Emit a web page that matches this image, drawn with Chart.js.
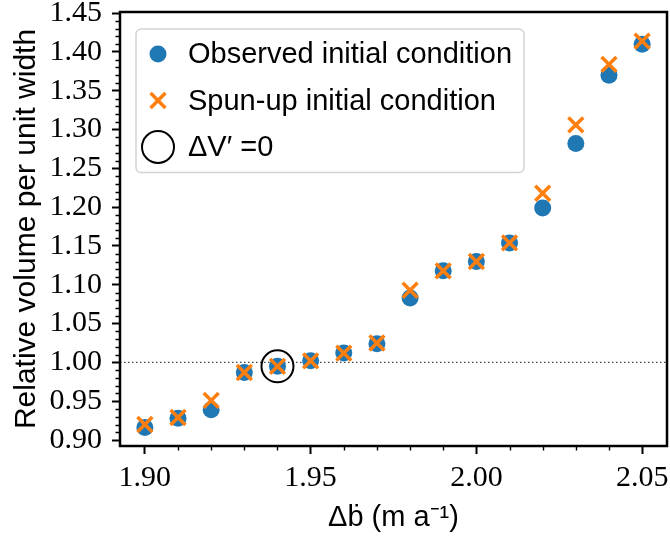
<!DOCTYPE html>
<html>
<head>
<meta charset="utf-8">
<script src="https://cdn.jsdelivr.net/npm/chart.js@4.4.1/dist/chart.umd.min.js"></script>
<style>
  html, body { margin: 0; padding: 0; background: #fff; }
  #wrap { width: 670px; height: 544px; }
</style>
</head>
<body>
<div id="wrap"><canvas id="chart" width="670" height="544"></canvas></div>
<script>
// --- DATA ---
const smbChange = [1.90, 1.91, 1.92, 1.93, 1.94, 1.95, 1.96, 1.97, 1.98, 1.99, 2.00, 2.01, 2.02, 2.03, 2.04, 2.05];
const observedVol = [0.916, 0.928, 0.939, 0.987, 0.995, 1.002, 1.012, 1.024, 1.083, 1.118, 1.130, 1.154, 1.199, 1.282, 1.370, 1.410];
const spunUpVol = [0.920, 0.929, 0.951, 0.987, 0.995, 1.002, 1.012, 1.025, 1.093, 1.118, 1.130, 1.154, 1.218, 1.306, 1.384, 1.414];
const zeroChangeX = [1.94];
const zeroChangeVol = [0.995];
const refLevel = 1.0;

const xTicks = [1.90, 1.95, 2.00, 2.05];
const yTicks = [0.90, 0.95, 1.00, 1.05, 1.10, 1.15, 1.20, 1.25, 1.30, 1.35, 1.40, 1.45];
const xRange = [1.8925, 2.0575];
const yRange = [0.8923, 1.4515];

const BLUE = '#1f77b4';
const ORANGE = '#ff7f0e';
const SERIF = "'Liberation Serif', serif";
const SANS = "'Liberation Sans', sans-serif";

const toPoints = (xs, ys) => xs.map((x, i) => ({ x: x, y: ys[i] }));

// --- PLUGINS ---
// minor ticks + full box frame like matplotlib
const frameAndMinor = {
    id: 'frameAndMinor',
    afterDraw(chart) {
        const ctx = chart.ctx;
        const a = chart.chartArea;
        const xs = chart.scales.x, ys = chart.scales.y;
        ctx.save();
        ctx.strokeStyle = '#000';
        ctx.lineWidth = 1.4;
        ctx.beginPath();
        for (let i = 0; i <= 15; i++) {
            if (i % 5 === 0) continue;
            const px = Math.round(xs.getPixelForValue(1.90 + i * 0.01)) + 0.5;
            ctx.moveTo(px, a.bottom);
            ctx.lineTo(px, a.bottom + 4.5);
        }
        for (let i = 0; i <= 55; i++) {
            if (i % 5 === 0) continue;
            const py = Math.round(ys.getPixelForValue(0.90 + i * 0.01)) + 0.5;
            ctx.moveTo(a.left, py);
            ctx.lineTo(a.left - 4.5, py);
        }
        ctx.stroke();
        ctx.lineWidth = 2.5;
        ctx.strokeRect(a.left, a.top, a.right - a.left, a.bottom - a.top);
        ctx.restore();
    }
};

// legend drawn inside the axes, upper left
const insideLegend = {
    id: 'insideLegend',
    afterDraw(chart) {
        const ctx = chart.ctx;
        const items = chart.data.datasets.filter(d => d.label);
        const left = 136, top = 29, rowH = 46.5;
        const markX = 158, textX = 188;
        ctx.save();
        ctx.font = '29px ' + SANS;
        let maxW = 0;
        items.forEach(d => { maxW = Math.max(maxW, ctx.measureText(d.label).width); });
        const w = textX + maxW + 12 - left, h = rowH * items.length + 4;
        ctx.beginPath();
        ctx.roundRect(left, top, w, h, 5);
        ctx.fillStyle = 'rgba(255,255,255,0.8)';
        ctx.fill();
        ctx.strokeStyle = '#d4d4d4';
        ctx.lineWidth = 1.5;
        ctx.stroke();
        items.forEach((d, i) => {
            const cy = top + 25 + i * rowH;
            ctx.fillStyle = d.backgroundColor;
            ctx.strokeStyle = d.borderColor;
            ctx.lineWidth = d.borderWidth;
            Chart.helpers.drawPoint(ctx, { pointStyle: d.pointStyle, radius: d.pointRadius, rotation: 0, borderWidth: d.borderWidth }, markX, cy);
            ctx.fillStyle = '#000';
            ctx.textBaseline = 'middle';
            ctx.fillText(d.label, textX, cy + 1);
        });
        ctx.restore();
    }
};

// --- CHART ---
new Chart(document.getElementById('chart'), {
    type: 'scatter',
    data: {
        datasets: [
            {
                label: 'Observed initial condition',
                data: toPoints(smbChange, observedVol),
                pointStyle: 'circle', pointRadius: 8.5,
                backgroundColor: BLUE, borderColor: BLUE, borderWidth: 0,
                order: 3
            },
            {
                label: 'Spun-up initial condition',
                data: toPoints(smbChange, spunUpVol),
                pointStyle: 'crossRot', pointRadius: 10.5,
                backgroundColor: ORANGE, borderColor: ORANGE, borderWidth: 3.5,
                order: 2
            },
            {
                label: 'ΔV′ =0',
                data: toPoints(zeroChangeX, zeroChangeVol),
                pointStyle: 'circle', pointRadius: 16,
                backgroundColor: 'rgba(0,0,0,0)', borderColor: '#000', borderWidth: 2,
                order: 1
            },
            {
                type: 'line',
                data: [{ x: xRange[0], y: refLevel }, { x: xRange[1], y: refLevel }],
                borderColor: '#444', borderWidth: 1.2, borderDash: [1.5, 2.5],
                pointRadius: 0,
                order: 4
            }
        ]
    },
    options: {
        responsive: false,
        animation: false,
        devicePixelRatio: 1,
        layout: { autoPadding: false, padding: { left: 0, top: 12, right: 3, bottom: 0 } },
        plugins: { legend: { display: false }, tooltip: { enabled: false } },
        scales: {
            x: {
                type: 'linear', min: xRange[0], max: xRange[1],
                afterBuildTicks: s => { s.ticks = xTicks.map(v => ({ value: v })); },
                afterFit: s => { s.height = 98; s.paddingLeft = 0; s.paddingRight = 0; },
                grid: { drawOnChartArea: false, drawTicks: true, tickLength: 8, tickWidth: 2, tickColor: '#000' },
                border: { display: false },
                ticks: { color: '#000', font: { family: SERIF, size: 30 }, padding: 6, maxRotation: 0, autoSkip: false, callback: v => v.toFixed(2) },
                title: { display: true, text: 'Δḃ (m a⁻¹)', color: '#000', font: { family: SANS, size: 29 }, padding: { top: 0, bottom: 9 } }
            },
            y: {
                type: 'linear', min: yRange[0], max: yRange[1],
                afterBuildTicks: s => { s.ticks = yTicks.map(v => ({ value: v })); },
                afterFit: s => { s.width = 120; s.paddingTop = 0; s.paddingBottom = 0; },
                grid: { drawOnChartArea: false, drawTicks: true, tickLength: 8, tickWidth: 2, tickColor: '#000' },
                border: { display: false },
                ticks: { color: '#000', font: { family: SERIF, size: 30 }, padding: 10, autoSkip: false, callback: v => v.toFixed(2) },
                title: { display: true, text: 'Relative volume per unit width', color: '#000', font: { family: SANS, size: 30 }, padding: { top: 9, bottom: 0 } }
            }
        }
    },
    plugins: [frameAndMinor, insideLegend]
});
</script>
</body>
</html>
